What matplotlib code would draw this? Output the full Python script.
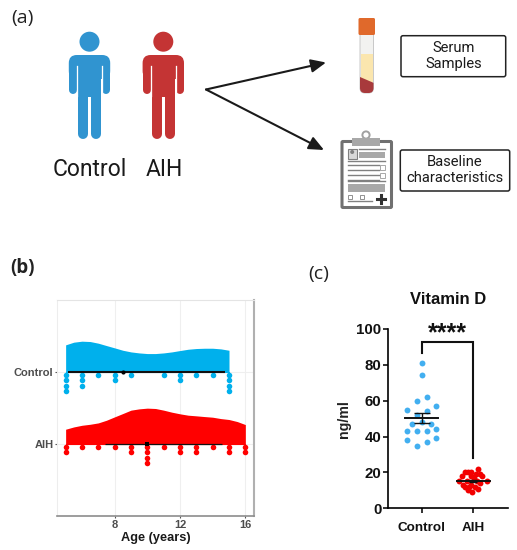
import numpy as np
import matplotlib
matplotlib.use("Agg")
import matplotlib.pyplot as plt
from matplotlib.patches import Circle, FancyBboxPatch, Rectangle, Polygon

plt.rcParams['font.family'] = ['Liberation Sans', 'DejaVu Sans']

W, H = 517, 550

# panel b data
density_x_control = [5, 5.5, 6, 6.5, 7, 7.5, 8, 8.5, 9, 9.5, 10, 10.5, 11, 11.5, 12, 12.5, 13, 13.5, 14, 14.5, 15]
density_control = [0.377, 0.414, 0.428, 0.423, 0.400, 0.367, 0.335, 0.302, 0.279, 0.265, 0.256, 0.256, 0.265,
                   0.279, 0.298, 0.316, 0.326, 0.330, 0.330, 0.321, 0.302]
density_x_aih = [5, 5.5, 6, 6.5, 7, 7.5, 8, 8.5, 9, 9.5, 10, 10.5, 11, 11.5, 12, 12.5, 13, 13.5, 14, 14.5, 15, 15.5, 16]
density_aih = [0.205, 0.237, 0.260, 0.274, 0.293, 0.330, 0.377, 0.423, 0.470, 0.488, 0.498, 0.493, 0.470, 0.442,
               0.419, 0.400, 0.391, 0.381, 0.372, 0.353, 0.340, 0.312, 0.270]
ages_control = [5, 6, 7, 8, 9, 11, 12, 13, 14, 15]
counts_control = [4, 3, 1, 2, 1, 1, 2, 1, 1, 4]
ages_aih = [5, 6, 7, 8, 9, 10, 11, 12, 13, 14, 15, 16]
counts_aih = [2, 1, 1, 1, 2, 4, 1, 2, 2, 1, 2, 2]
range_control = [5.16, 14.75]
range_aih = [7.4, 14.55]
median_control = 8.5
median_aih = 10

# panel c data
groups = ['Control', 'AIH']
jitter_control = [0, 0, -0.09, 0.097, -0.277, 0.277, -0.09, 0.097, -0.18, 0, 0.187, -0.277, -0.09, 0.097, 0.277,
                  -0.277, 0.277, 0.097, -0.09]
vitd_control = [81, 74.5, 60, 62, 55, 57, 52, 54, 47, 48.3, 47, 43, 43, 43, 44, 38, 39, 37, 35]
jitter_aih = [0.09, -0.17, -0.10, -0.04, 0.05, 0.13, -0.22, -0.05, 0.02, 0.17, -0.27, -0.13, 0.07, 0.27, -0.20,
              -0.05, 0.12, -0.17, -0.08, 0.03, 0.09, -0.10, -0.03]
vitd_aih = [22, 20, 20, 20, 19, 19, 18, 18, 17, 18, 15, 15, 15, 15, 13, 13, 14, 12, 12, 12, 11, 10, 9]
mean_vitd = [50.5, 15.2]
sem_vitd = [2.9, 0.8]

fig = plt.figure(figsize=(W / 100, H / 100), dpi=100)


def px_axes(left, top, right, bottom):
    return fig.add_axes([left / W, 1 - bottom / H, (right - left) / W, (bottom - top) / H])


# ---- panel a, drawn on a pixel canvas ----
canvas = fig.add_axes([0, 0, 1, 1])
canvas.set_xlim(0, W)
canvas.set_ylim(H, 0)
canvas.axis('off')
PX = 0.72  # one pixel in points


def person(cx, color):
    canvas.add_patch(Circle((cx, 41.7), 10, color=color, lw=0))
    canvas.add_patch(FancyBboxPatch((cx - 20.7, 55), 41.4, 24, boxstyle="round,pad=0,rounding_size=8",
                                    color=color, lw=0))
    canvas.add_patch(Rectangle((cx - 11.5, 60), 23, 37, color=color, lw=0))
    for s in (-1, 1):
        canvas.plot([cx + s * 16.7, cx + s * 16.7], [66, 90], color=color, lw=8 * PX, solid_capstyle='round')
        canvas.plot([cx + s * 6.6, cx + s * 6.6], [92, 134], color=color, lw=10 * PX, solid_capstyle='round')
        canvas.plot([cx + s * 12.4, cx + s * 12.4], [66, 96], color='white', lw=1.3 * PX)


person(89.5, '#3094D0')
person(163.3, '#C43434')
canvas.text(90, 169, 'Control', ha='center', va='center', family='Roboto', fontsize=16.5, color='#1a1a1a')
canvas.text(164, 169, 'AIH', ha='center', va='center', family='Roboto', fontsize=16.5, color='#1a1a1a')

for end in [(326, 62.5), (324, 150)]:
    canvas.annotate('', xy=end, xytext=(206, 89.5),
                    arrowprops=dict(arrowstyle='-|>,head_length=0.9,head_width=0.4', color='#1a1a1a', lw=1.5,
                                    shrinkA=0, shrinkB=0))

# serum tube
tube = FancyBboxPatch((360, 30), 13.5, 63, boxstyle="round,pad=0,rounding_size=5",
                      fc='#F2F2F0', ec='#C8C8C8', lw=0.7)
canvas.add_patch(tube)
serum = Rectangle((360.6, 54), 12.3, 28, color='#FBE6AE', lw=0)
canvas.add_patch(serum)
blood = Polygon([(360, 77), (374, 83), (374, 94), (360, 94)], color='#A83A3C', lw=0)
canvas.add_patch(blood)
blood.set_clip_path(tube)
canvas.add_patch(FancyBboxPatch((358.5, 18), 16.5, 17, boxstyle="round,pad=0,rounding_size=1.5",
                                fc='#E0692B', ec='none'))

# clipboard
GREY = '#808080'
LIGHT = '#A8A8A8'
canvas.add_patch(FancyBboxPatch((342, 141.5), 49.5, 66, boxstyle="round,pad=0,rounding_size=1",
                                fc='white', ec='#707070', lw=2.2))
canvas.add_patch(Circle((366, 135), 3.6, fc='white', ec='#A0A0A0', lw=1.4))
canvas.add_patch(Rectangle((352, 138), 28, 8, color='#A8A8A8', lw=0))
canvas.add_patch(Rectangle((347.5, 149), 9.5, 9.5, fc='#D8D8D8', ec=GREY, lw=0.8))
canvas.add_patch(Circle((352.2, 152), 2, color=GREY, lw=0))
canvas.add_patch(Rectangle((359, 151.5), 26, 6.5, color=LIGHT, lw=0))
canvas.plot([359, 385], [149, 149], color=GREY, lw=1)
canvas.plot([347.5, 385], [161, 161], color=GREY, lw=1)
for yy in [165, 170, 175, 180]:
    canvas.plot([347.5, 379], [yy, yy], color=GREY, lw=1)
canvas.plot([347.5, 385], [181, 181], color=GREY, lw=1)
canvas.add_patch(Rectangle((380, 164.5), 5, 5.5, fc='white', ec=LIGHT, lw=0.7))
canvas.add_patch(Rectangle((380, 172.5), 5, 5.5, fc='white', ec=LIGHT, lw=0.7))
canvas.add_patch(Rectangle((347.5, 184), 37.5, 8, color=LIGHT, lw=0))
canvas.add_patch(Rectangle((347.5, 195), 4, 4, fc='white', ec=GREY, lw=0.6))
canvas.add_patch(Rectangle((360, 195), 4, 4, fc='white', ec=GREY, lw=0.6))
canvas.plot([347.5, 372], [201, 201], color=GREY, lw=1)
canvas.plot([377, 385], [199, 199], color='#303030', lw=2.2)
canvas.plot([381, 381], [195, 203], color='#303030', lw=2.2)

# labelled boxes
for x0, y0, x1, y1 in [(401, 35.7, 505.7, 76.7), (400.3, 150, 509.7, 191)]:
    canvas.add_patch(FancyBboxPatch((x0, y0), x1 - x0, y1 - y0, boxstyle="round,pad=0,rounding_size=2",
                                    fc='white', ec='#222222', lw=1.1))
for x, y, s in [(453.7, 47.5, 'Serum'), (453.7, 64, 'Samples'), (455, 161.5, 'Baseline'),
                (455, 178, 'characteristics')]:
    canvas.text(x, y, s, ha='center', va='center', family='Roboto', fontsize=10.6, color='#1a1a1a')

canvas.text(11, 18, '(a)', ha='left', va='center', family='Open Sans', fontsize=14, color='#222222')
canvas.text(10.5, 268.5, '(b)', ha='left', va='center', family='Open Sans', fontsize=13.5, fontweight='bold',
            color='#222222')
canvas.text(308, 274, '(c)', ha='left', va='center', family='Open Sans', fontsize=14, color='#222222')

# ---- panel b ----
ax_b = px_axes(57.3, 300, 254, 516)
ax_b.set_xlim(4.49, 16.53)
ax_b.set_ylim(0, 3)
ax_b.grid(True, color='#EFEFEF', lw=0.8)
ax_b.set_axisbelow(True)

DROP = 0.038
STEP = 0.0767
for base, dx, dy, ages, counts, color, line, lw, med in [
    (2, density_x_control, density_control, ages_control, counts_control, '#00B0EC', range_control, 1.5, median_control),
    (1, density_x_aih, density_aih, ages_aih, counts_aih, '#FF0000', range_aih, 0.9, median_aih),
]:
    ax_b.fill_between(dx, base, base + np.array(dy), color=color, lw=0, zorder=2)
    ax_b.plot([dx[0], dx[-1]], [base, base], color=color, lw=0.8, zorder=2)
    dot_x = np.repeat(ages, counts)
    dot_y = np.concatenate([base - DROP - STEP * np.arange(n) for n in counts])
    ax_b.scatter(dot_x, dot_y, s=16, color=color, lw=0, zorder=3, clip_on=False)
    ax_b.plot(line, [base, base], color='#111111', lw=lw, zorder=4, solid_capstyle='butt')
    ax_b.scatter([med], [base], s=9, color='black', lw=0, zorder=5, marker='s' if base == 1 else 'o')

ax_b.set_xticks([8, 12, 16])
ax_b.set_yticks([1, 2])
ax_b.set_yticklabels(['AIH', 'Control'])
ax_b.tick_params(axis='both', length=1.5, width=0.8, color='#555555', labelcolor='#4D4D4D', pad=1.2)
for lab in ax_b.get_xticklabels() + ax_b.get_yticklabels():
    lab.set_fontweight('bold')
    lab.set_fontsize(8)
ax_b.set_xlabel('Age (years)', fontsize=9.2, fontweight='bold', color='#1a1a1a', labelpad=1.3)
ax_b.spines['left'].set_color('#EDEDED')
ax_b.spines['top'].set_color('#E4E4E4')
ax_b.spines['right'].set_color('#B0B0B0')
ax_b.spines['right'].set_linewidth(1.5)
ax_b.spines['bottom'].set_color('#8C8C8C')
ax_b.spines['bottom'].set_linewidth(1.2)

# ---- panel c ----
ax_c = px_axes(388, 329, 508.3, 508.3)
ax_c.set_xlim(-0.653, 1.678)
ax_c.set_ylim(0, 100)
ax_c.spines['top'].set_visible(False)
ax_c.spines['right'].set_visible(False)
ax_c.spines['left'].set_linewidth(1.2)
ax_c.spines['bottom'].set_linewidth(1.2)
ax_c.patch.set_alpha(0)

ax_c.scatter(0 + np.array(jitter_control), vitd_control, s=18, color='#42AFF0', lw=0, zorder=2)
ax_c.scatter(1 + np.array(jitter_aih), vitd_aih, s=18, color='#F20000', lw=0, zorder=2)

for i in range(2):
    ax_c.plot([i - 0.325, i + 0.325], [mean_vitd[i]] * 2, color='#111111', lw=1.4, zorder=3)
    ax_c.errorbar(i, mean_vitd[i], yerr=sem_vitd[i], color='#111111', lw=1.0, capsize=5.5 if i == 0 else 3,
                  capthick=1.0, zorder=3)

ax_c.plot([0, 0, 1, 1], [86.8, 92.9, 92.9, 27.9], color='#111111', lw=1.5, clip_on=False, solid_joinstyle='miter')
ax_c.text(0.5, 97.5, '****', ha='center', va='center', fontsize=18, fontweight='bold', color='#111111')

ax_c.set_xticks([0, 1])
ax_c.set_xticklabels(groups, fontsize=9.7, fontweight='bold')
ax_c.set_yticks([0, 20, 40, 60, 80, 100])
ax_c.set_yticklabels(['0', '20', '40', '60', '80', '100'], fontsize=10.8, fontweight='bold')
ax_c.tick_params(axis='both', length=3.8, width=1.2, colors='#111111')
ax_c.tick_params(axis='y', pad=1)
ax_c.tick_params(axis='x', pad=6)
ax_c.set_ylabel('ng/ml', fontsize=10.2, fontweight='bold', color='#222222', labelpad=4)
fig.text(447.7 / W, 1 - 300 / H, 'Vitamin D', ha='center', va='center', fontsize=12, fontweight='bold',
         color='#111111')

fig.savefig('out.png', dpi=100)
